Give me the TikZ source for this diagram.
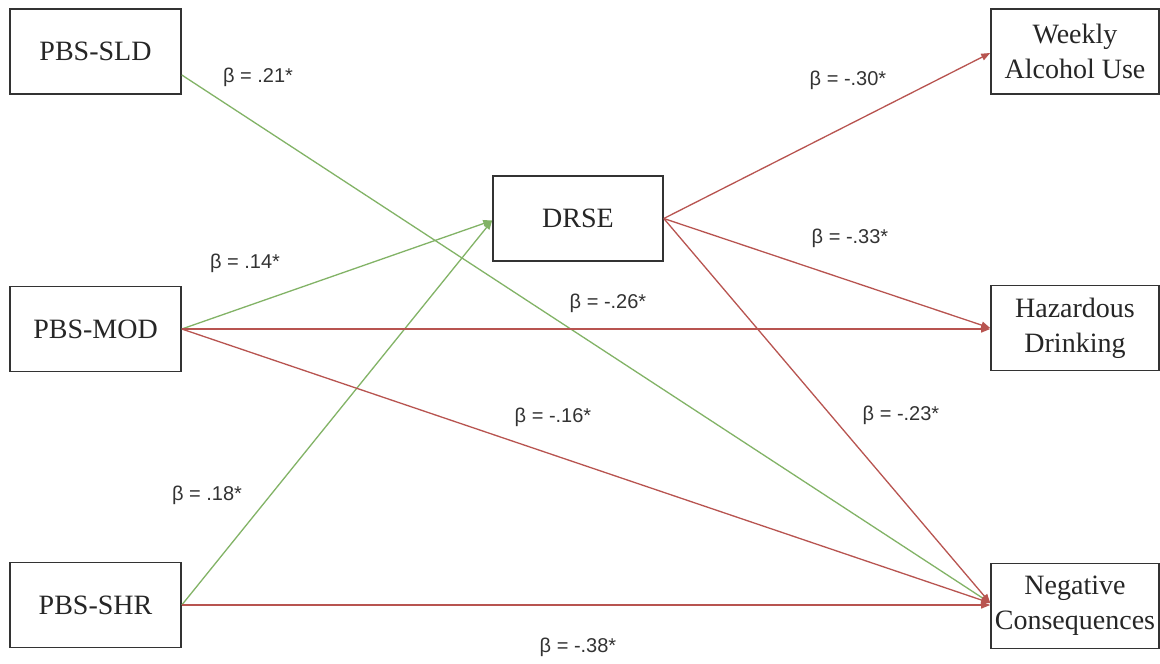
\documentclass[tikz,border=0pt]{standalone}
\usepackage{fontspec}
\setmainfont{Liberation Serif}
\newfontfamily\lblfont{Liberation Sans}
\usetikzlibrary{arrows.meta}
\definecolor{grn}{HTML}{82B366}
\definecolor{rd}{HTML}{B85450}
\definecolor{bd}{HTML}{333333}
\begin{document}
\begin{tikzpicture}[x=1pt,y=-1pt,
 box/.style={draw=bd,line width=1.6pt,minimum width=171pt,minimum height=85pt,inner sep=0pt,align=center,font=\fontsize{28}{35}\selectfont,text=black!85},
 rbox/.style={box,minimum width=168pt},
 lbl/.style={font=\lblfont\fontsize{20}{24}\selectfont,text=black!80,inner sep=0pt},
 garr/.style={draw=grn,line width=1.3pt,-{Triangle[length=9pt,width=7pt]}},
 rarr/.style={draw=rd,line width=1.3pt,-{Triangle[length=9pt,width=7pt]}}]
\useasboundingbox (0,0) rectangle (1160,664);
\fill[white] (0,0) rectangle (1160,664);
% nodes
\node[box] (sld) at (95.5,51.5) {PBS-SLD};
\node[box] (mod) at (95.5,329) {PBS-MOD};
\node[box] (shr) at (95.5,605) {PBS-SHR};
\node[box,minimum width=170pt] (drse) at (578,218.5) {DRSE};
\node[rbox] (wau) at (1075,51.5) {Weekly\\Alcohol Use};
\node[rbox] (haz) at (1075,328) {Hazardous\\Drinking};
\node[rbox] (neg) at (1075,606) {Negative\\Consequences};
% anchor points
\coordinate (sldout) at ([yshift=-23.5pt]sld.east);
\coordinate (drsein) at ([yshift=-2pt]drse.west);
\coordinate (wauin) at ([yshift=-1.5pt]wau.west);
\coordinate (negin) at ([yshift=3pt]neg.west);
% connectors
\draw[garr] (sldout) -- (negin);
\draw[garr] (mod.east) -- (drsein);
\draw[garr] (shr.east) -- (drsein);
\draw[rarr] (mod.east) -- (mod.east -| haz.west);
\draw[rarr] (mod.east) -- (negin);
\draw[rarr] (shr.east) -- (shr.east -| neg.west);
\draw[rarr] (drse.east) -- (wauin);
\draw[rarr] (drse.east) -- (haz.west);
\draw[rarr] (drse.east) -- (negin);
% labels
\node[lbl] (l1) at (258,77) {β = .21*};
\node[lbl] (l2) at (245,263) {β = .14*};
\node[lbl] (l3) at (207,495) {β = .18*};
\node[lbl] (l4) at (848,80) {β = -.30*};
\node[lbl] (l5) at (850,238) {β = -.33*};
\node[lbl] (l6) at (608,303) {β = -.26*};
\node[lbl] (l7) at (553,417) {β = -.16*};
\node[lbl] (l8) at (901,415) {β = -.23*};
\node[lbl] (l9) at (578,647) {β = -.38*};
\end{tikzpicture}
\end{document}
